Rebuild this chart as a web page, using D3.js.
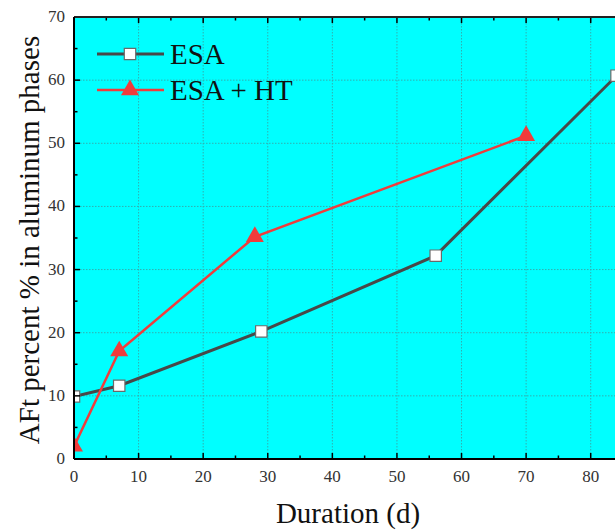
<!DOCTYPE html>
<html>
<head>
<meta charset="utf-8">
<script src="https://cdn.jsdelivr.net/npm/d3@7"></script>
<style>
  body { margin: 0; overflow: hidden; background: #fff; }
  svg { display: block; }
</style>
</head>
<body>
<div id="chart"></div>
<script>
// data
const esaDays = [0, 7, 29, 56, 84];
const esaValues = [9.9, 11.6, 20.2, 32.2, 60.7];
const htDays = [0, 7, 28, 70];
const htValues = [2.0, 17.1, 35.2, 51.2];
const xTicks = [0, 10, 20, 30, 40, 50, 60, 70, 80];
const yTicks = [0, 10, 20, 30, 40, 50, 60, 70];
const seriesNames = ["ESA", "ESA + HT"];

const width = 640, height = 530;
const margin = {left: 74, top: 17};
const plotW = 549, plotH = 442;

const svg = d3.select('#chart').append('svg')
    .attr('width', width)
    .attr('height', height);

const x = d3.scaleLinear().domain([0, 85]).range([0, plotW]);
const y = d3.scaleLinear().domain([0, 70]).range([plotH, 0]);

const g = svg.append('g')
    .attr('transform', `translate(${margin.left},${margin.top})`);

g.append('rect')
    .attr('width', plotW)
    .attr('height', plotH)
    .style('fill', '#00ffff');

svg.append('clipPath').attr('id', 'plotClip')
    .append('rect')
    .attr('x', 0).attr('y', 0)
    .attr('width', plotW).attr('height', plotH);

// grid lines
g.selectAll('line.vgrid')
    .data(xTicks.filter(d => d > 0))
    .enter().append('line')
    .attr('x1', d => x(d)).attr('x2', d => x(d))
    .attr('y1', 0).attr('y2', plotH)
    .style('stroke', '#30b0b0')
    .style('stroke-width', 1)
    .style('stroke-dasharray', '1.5,1.5');

g.selectAll('line.hgrid')
    .data(yTicks.filter(d => d > 0 && d < 70))
    .enter().append('line')
    .attr('x1', 0).attr('x2', plotW)
    .attr('y1', d => y(d)).attr('y2', d => y(d))
    .style('stroke', '#30b0b0')
    .style('stroke-width', 1)
    .style('stroke-dasharray', '1.5,1.5');

// series
const esaData = esaDays.map((d, i) => ({x: d, y: esaValues[i]}));
const htData = htDays.map((d, i) => ({x: d, y: htValues[i]}));

const line = d3.line().x(d => x(d.x)).y(d => y(d.y));

const plot = g.append('g').attr('clip-path', 'url(#plotClip)');

plot.append('path')
    .datum(esaData)
    .attr('d', line)
    .style('fill', 'none')
    .style('stroke', '#484848')
    .style('stroke-width', 3);

plot.append('path')
    .datum(htData)
    .attr('d', line)
    .style('fill', 'none')
    .style('stroke', '#f03c3c')
    .style('stroke-width', 2.5);

const square = d3.symbol().type(d3.symbolSquare).size(130);
const triangle = d3.symbol().type(d3.symbolTriangle).size(140);

plot.selectAll('path.sq')
    .data(esaData)
    .enter().append('path')
    .attr('d', square)
    .attr('transform', d => `translate(${x(d.x)},${y(d.y)})`)
    .style('fill', '#fff')
    .style('stroke', '#6a6a6a')
    .style('stroke-width', 1.2);

plot.selectAll('path.tri')
    .data(htData)
    .enter().append('path')
    .attr('d', triangle)
    .attr('transform', d => `translate(${x(d.x)},${y(d.y)})`)
    .style('fill', '#f03c3c');

// axes with inward ticks
const minorX = d3.range(5, 90, 10);
const minorY = d3.range(5, 70, 10);

function tickSet(sel, data, len, horiz, base) {
    sel.selectAll(null)
        .data(data)
        .enter().append('line')
        .attr('x1', d => horiz ? x(d) : base)
        .attr('x2', d => horiz ? x(d) : base + len)
        .attr('y1', d => horiz ? base : y(d))
        .attr('y2', d => horiz ? base + len : y(d))
        .style('stroke', '#000')
        .style('stroke-width', 1.5);
}

const axes = g.append('g');
tickSet(axes, xTicks, -6, true, plotH);
tickSet(axes, minorX, -3.5, true, plotH);
tickSet(axes, xTicks, 6, true, 0);
tickSet(axes, minorX, 3.5, true, 0);
tickSet(axes, yTicks, 6, false, 0);
tickSet(axes, minorY, 3.5, false, 0);

axes.append('line')
    .attr('x1', 0).attr('x2', plotW)
    .attr('y1', plotH).attr('y2', plotH)
    .style('stroke', '#000').style('stroke-width', 2);
axes.append('line')
    .attr('x1', 0).attr('x2', plotW)
    .attr('y1', 0).attr('y2', 0)
    .style('stroke', '#222').style('stroke-width', 2);
axes.append('line')
    .attr('x1', 0).attr('x2', 0)
    .attr('y1', 0).attr('y2', plotH)
    .style('stroke', '#000').style('stroke-width', 2);

// tick labels
g.selectAll('text.xl')
    .data(xTicks)
    .enter().append('text')
    .attr('x', d => x(d))
    .attr('y', plotH + 23)
    .attr('text-anchor', 'middle')
    .style('font-family', '"Liberation Serif", "DejaVu Serif", serif')
    .style('font-size', '17px')
    .style('fill', '#333')
    .text(d => d);

g.selectAll('text.yl')
    .data(yTicks)
    .enter().append('text')
    .attr('x', -9)
    .attr('y', d => y(d) + 5)
    .attr('text-anchor', 'end')
    .style('font-family', '"Liberation Serif", "DejaVu Serif", serif')
    .style('font-size', '17px')
    .style('fill', '#333')
    .text(d => d);

// axis titles
svg.append('text')
    .attr('x', 348)
    .attr('y', 523)
    .attr('text-anchor', 'middle')
    .style('font-family', '"Liberation Serif", serif')
    .style('font-size', '29px')
    .style('fill', '#111')
    .text('Duration (d)');

svg.append('text')
    .attr('transform', `translate(39,${margin.top + plotH / 2 + 2}) rotate(-90)`)
    .attr('text-anchor', 'middle')
    .style('font-family', '"Liberation Serif", serif')
    .style('font-size', '29px')
    .style('fill', '#111')
    .text('AFt percent % in aluminum phases');

// legend
const legend = svg.append('g');
const legendRows = [
    {name: seriesNames[0], color: '#484848', sym: square, fill: '#fff', stroke: '#6a6a6a', w: 3, y: 54},
    {name: seriesNames[1], color: '#f03c3c', sym: triangle, fill: '#f03c3c', stroke: 'none', w: 2.5, y: 90}
];
legendRows.forEach(r => {
    legend.append('line')
        .attr('x1', 97).attr('x2', 164)
        .attr('y1', r.y).attr('y2', r.y)
        .style('stroke', r.color)
        .style('stroke-width', r.w);
    legend.append('path')
        .attr('d', r.sym)
        .attr('transform', `translate(130,${r.y})`)
        .style('fill', r.fill)
        .style('stroke', r.stroke)
        .style('stroke-width', 1.2);
    legend.append('text')
        .attr('x', 170)
        .attr('y', r.y + 10)
        .style('font-family', '"Liberation Serif", serif')
        .style('font-size', '29px')
        .style('fill', '#111')
        .text(r.name);
});
</script>
</body>
</html>
